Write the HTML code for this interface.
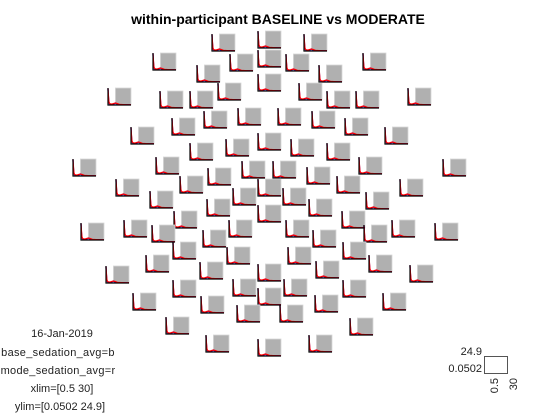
<!DOCTYPE html>
<html><head><meta charset="utf-8"><style>
body{margin:0;background:#fff;}
svg{display:block;font-family:"Liberation Sans",sans-serif;}
</style></head><body>
<svg id="c" width="560" height="420" viewBox="0 0 560 420">
<text x="278" y="24" text-anchor="middle" font-size="14" font-weight="bold">within-participant BASELINE vs MODERATE</text>
<g id="panels"></g>
<g font-size="11" fill="#222" text-anchor="middle">
<text x="62" y="337">16-Jan-2019</text>
<text x="58" y="356" letter-spacing="0.3">base_sedation_avg=b</text>
<text x="58" y="374" letter-spacing="0.3">mode_sedation_avg=r</text>
<text x="62" y="392">xlim=[0.5 30]</text>
<text x="60" y="410">ylim=[0.0502 24.9]</text>
</g>
<g font-size="11" fill="#222">
<rect x="484.5" y="356.5" width="23" height="17" fill="none" stroke="#555" stroke-width="1"/>
<text x="482" y="355" text-anchor="end">24.9</text>
<text x="482" y="372" text-anchor="end">0.0502</text>
<text transform="translate(498,378) rotate(-90)" text-anchor="end">0.5</text>
<text transform="translate(517,378) rotate(-90)" text-anchor="end">30</text>
</g>
</svg>
<script>
const freqs=[0.5,1,1.5,2,3,4,6,8,10,12,15,20,25,30];
const baseline=[24,12,5,2.5,1.5,1.2,1.0,1.5,3.0,1.5,0.8,0.5,0.3,0.2];
const moderate=[24,14,6,3,2,1.6,1.5,2.2,3,2.2,1.0,0.6,0.4,0.3];
const xlim=[0.5,30], ylim=[0.0502,24.9];
const highlight=[10,30];
const channelX=[212,258,304,153,230,258,286,363,197,319,258,218,299,108,160,190,327,356,408,238,278,204,312,172,345,131,385,258,190,226,291,327,73,156,242,273,359,443,208,307,180,337,116,258,400,150,366,233,283,207,309,258,174,342,81,124,152,229,286,364,392,435,203,313,173,343,227,288,146,369,200,316,258,106,410,233,284,173,343,258,133,383,201,315,237,280,166,350,206,258,309];
const channelY=[51,48,51,70,71,67,71,70,82,82,91,100,100,105,108,108,108,108,105,125,125,128,128,135,135,144,144,150,160,156,156,160,176,174,178,178,174,176,185,184,193,193,196,196,196,208,209,205,205,216,216,222,228,228,240,237,242,237,237,242,237,240,247,247,259,259,264,264,272,272,279,278,281,283,282,296,296,297,297,305,310,310,313,312,322,322,334,335,352,356,352];
const W=23,H=17;
const ns="http://www.w3.org/2000/svg";
const g=document.getElementById('panels');
function sx(f,x0){return x0+(f-xlim[0])/(xlim[1]-xlim[0])*W;}
function sy(v,y0){return y0-(v-ylim[0])/(ylim[1]-ylim[0])*H;}
function mk(t,a){const e=document.createElementNS(ns,t);for(const k in a)e.setAttribute(k,a[k]);return e;}
function line(vals,x0,y0){return vals.map((v,i)=>(i?'L':'M')+sx(freqs[i],x0).toFixed(1)+','+sy(v,y0).toFixed(1)).join('');}
for(let i=0;i<channelX.length;i++){
  const x0=channelX[i],y0=channelY[i];
  const p=mk('g',{});
  
  
  const r=mk('rect',{x:sx(highlight[0],x0),y:y0-H,width:sx(highlight[1],x0)-sx(highlight[0],x0),height:H,fill:'#b0b0b0',stroke:'#d8d8d8','stroke-width':0.8});
  
  
  p.appendChild(r);
  const b=mk('path',{d:line(baseline,x0,y0),fill:'none',stroke:'#0000ff','stroke-width':1.3});
  
  
  p.appendChild(b);
  const m=mk('path',{d:line(moderate,x0,y0),fill:'none',stroke:'#ff0000','stroke-width':1.3});
  
  
  p.appendChild(m);
  const ax=mk('path',{d:`M${x0},${y0-H}V${y0}H${x0+W}`,fill:'none',stroke:'#000','stroke-width':1.2});
  
  
  p.appendChild(ax);
  g.appendChild(p);
}
</script>
</body></html>
